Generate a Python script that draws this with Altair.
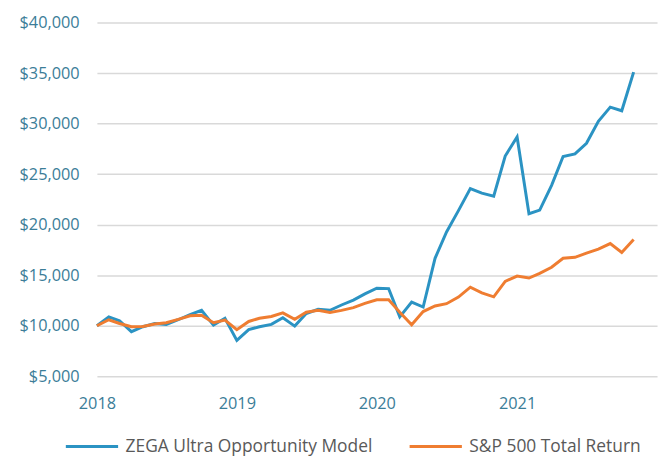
import altair as alt
import pandas as pd

months = [d.strftime("%Y-%m-%d") for d in pd.date_range("2018-01-01", periods=47, freq="MS")]

zega = [10000, 10880, 10490, 9410, 9900, 10220, 10130, 10590, 11100, 11520,
        10060, 10740, 8540, 9610, 9900, 10130, 10780, 9960, 11200, 11620,
        11520, 12050, 12540, 13150, 13710, 13670, 10880, 12340, 11850, 16670,
        19280, 21390, 23570, 23120, 22820, 26790, 28680, 21080, 21440, 23890,
        26750, 27010, 28050, 30230, 31630, 31270, 35100]

sp500 = [10000, 10590, 10220, 9900, 9930, 10160, 10290, 10620, 10980, 11040,
         10290, 10550, 9610, 10420, 10740, 10910, 11270, 10640, 11330, 11520,
         11300, 11520, 11790, 12210, 12570, 12570, 11330, 10100, 11400, 11950,
         12180, 12830, 13810, 13250, 12860, 14390, 14910, 14720, 15180, 15790,
         16670, 16770, 17190, 17580, 18130, 17250, 18530]

series_names = ["ZEGA Ultra Opportunity Model", "S&P 500 Total Return"]
series_colors = ["#2B93C3", "#EF7D31"]
year_ticks = ["2018-01-01", "2019-01-01", "2020-01-01", "2021-01-01"]

df = pd.DataFrame({
    "date": months * 2,
    "value": zega + sp500,
    "series": [series_names[0]] * len(zega) + [series_names[1]] * len(sp500),
})

FONT = "Open Sans"

chart = alt.Chart(df).mark_line(strokeWidth=3).encode(
    x=alt.X("date:T",
            scale=alt.Scale(domain=["2018-01-01", "2022-01-01"]),
            axis=alt.Axis(title=None, values=year_ticks, format="%Y",
                          grid=False, ticks=False, domain=False,
                          labelFlush=False,
                          labelFontSize=16.5, labelColor="#3B7D98",
                          labelPadding=20, labelFont=FONT)),
    y=alt.Y("value:Q",
            scale=alt.Scale(domain=[5000, 40000], nice=False, zero=False),
            axis=alt.Axis(title=None, values=list(range(5000, 40001, 5000)),
                          format="$,.0f", ticks=False, domain=False,
                          gridColor="#D9D9D9", gridWidth=1.5,
                          labelFontSize=16.5, labelColor="#3B7D98",
                          labelPadding=18, labelFont=FONT)),
    color=alt.Color("series:N",
                    scale=alt.Scale(domain=series_names, range=series_colors),
                    sort=series_names,
                    legend=alt.Legend(title=None, orient="none", direction="horizontal",
                                      legendX=-33, legendY=401,
                                      symbolType="stroke", symbolSize=2800,
                                      symbolStrokeWidth=3, labelFontSize=17.6,
                                      labelColor="#595959", labelFont=FONT,
                                      labelLimit=400,
                                      labelOffset=6, columnPadding=31)),
).properties(
    width=567, height=358,
    autosize=alt.AutoSizeParams(type="none"),
    padding={"left": 90, "top": 12, "right": 2, "bottom": 78},
).configure_view(stroke=None)

chart.save("out.html", embed_options={"renderer": "svg", "actions": False})
